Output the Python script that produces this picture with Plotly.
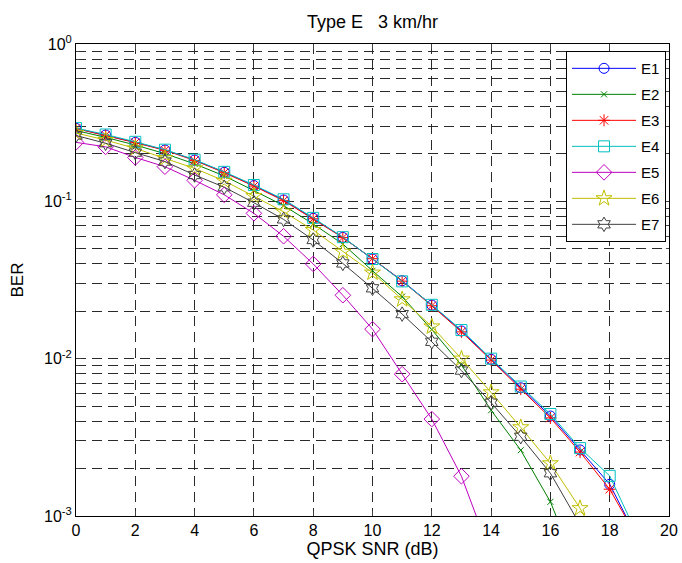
import plotly.graph_objects as go

# SNR points (dB) and BER curves for each channel estimator
snr = list(range(0, 20))

ber_e1 = [0.291, 0.264, 0.237, 0.212, 0.183, 0.153, 0.126, 0.102, 0.078, 0.059,
          0.043, 0.0313, 0.0219, 0.0150, 0.0099, 0.00653, 0.00432, 0.00263, 0.00159, 0.00068]
ber_e2 = [0.282, 0.255, 0.228, 0.201, 0.173, 0.145, 0.117, 0.094, 0.0718, 0.0535,
          0.0362, 0.0248, 0.0153, 0.0091, 0.0047, 0.00262, 0.00123, 0.00042]
ber_e3 = [0.290, 0.263, 0.236, 0.211, 0.182, 0.152, 0.125, 0.101, 0.0775, 0.0588,
          0.0432, 0.0311, 0.0217, 0.0148, 0.0098, 0.00640, 0.00420, 0.00255, 0.00148, 0.00069]
ber_e4 = [0.292, 0.266, 0.239, 0.213, 0.184, 0.154, 0.127, 0.103, 0.0785, 0.0592,
          0.0430, 0.0310, 0.0220, 0.0152, 0.0100, 0.00665, 0.00445, 0.00270, 0.00180, 0.00071]
ber_e5 = [0.237, 0.222, 0.190, 0.166, 0.136, 0.110, 0.0839, 0.0600, 0.0400, 0.0253,
          0.0154, 0.00797, 0.00413, 0.00179, 0.00056]
ber_e6 = [0.272, 0.245, 0.217, 0.188, 0.162, 0.135, 0.108, 0.0859, 0.0657, 0.0478,
          0.0352, 0.0238, 0.0160, 0.0100, 0.0061, 0.00366, 0.00216, 0.00112, 0.00050]
ber_e7 = [0.262, 0.234, 0.204, 0.179, 0.147, 0.123, 0.098, 0.0768, 0.0568, 0.0403,
          0.0280, 0.0192, 0.0128, 0.0084, 0.00525, 0.00319, 0.00187, 0.00088]

series = [
    ("E1", ber_e1, "#0000ff", "circle-open", 10),
    ("E2", ber_e2, "#008000", "x-thin-open", 6),
    ("E3", ber_e3, "#ff0000", "asterisk-open", 10),
    ("E4", ber_e4, "#00bfbf", "square-open", 11),
    ("E5", ber_e5, "#bf00bf", "diamond-open", 12),
    ("E6", ber_e6, "#bfbf00", "star-open", 12),
    ("E7", ber_e7, "#404040", "hexagram-open", 11),
]

x_ticks = list(range(0, 21, 2))
y_major = [1e-3, 1e-2, 1e-1, 1]
y_major_text = ["10<sup>-3</sup>", "10<sup>-2</sup>", "10<sup>-1</sup>", "10<sup>0</sup>"]
y_minor = [m * 10.0 ** e for e in (-3, -2, -1) for m in range(2, 10)]

FAMILY = "Arial, Liberation Sans, sans-serif"


def txt(size):
    return dict(family=FAMILY, size=size, color="black")


fig = go.Figure()
for name, ber, color, symbol, size in series:
    fig.add_trace(go.Scatter(
        x=snr[:len(ber)], y=ber, name=name, mode="lines+markers",
        legendgroup=name,
        line=dict(color=color, width=1),
        marker=dict(symbol=symbol, size=size, color=color,
                    line=dict(color=color, width=1)),
    ))

grid_color = "#2a2a2a"
grid_dash = "10px,6px"
fig.update_layout(
    width=682, height=563,
    margin=dict(l=76, r=13, t=44, b=47, autoexpand=False),
    paper_bgcolor="white", plot_bgcolor="white",
    font=txt(14),
    title=dict(text="Type E   3 km/hr", x=0.5, xref="paper", xanchor="center",
               y=0.962, yanchor="middle", font=txt(18)),
    legend=dict(x=0.995, y=0.985, xanchor="right", yanchor="top",
                bgcolor="white", bordercolor="black", borderwidth=1,
                font=txt(15), tracegroupgap=3.5, itemwidth=64),
    showlegend=True,
)
fig.update_xaxes(
    range=[0, 20], tickvals=x_ticks, ticks="inside", ticklen=5, automargin=False,
    showline=True, linecolor="black", linewidth=1, mirror="ticks",
    showgrid=True, gridcolor=grid_color, griddash=grid_dash, gridwidth=1,
    zeroline=False, title=dict(text="QPSK SNR (dB)", standoff=4, font=txt(18)),
    tickfont=txt(16),
)
fig.update_yaxes(
    type="log", range=[-3, 0], tickvals=y_major, ticktext=y_major_text,
    ticks="inside", ticklen=5, automargin=False,
    showline=True, linecolor="black", linewidth=1, mirror="ticks",
    showgrid=True, gridcolor=grid_color, griddash=grid_dash, gridwidth=1,
    minor=dict(tickmode="array", tickvals=y_minor, ticks="inside", ticklen=3,
               showgrid=True, gridcolor=grid_color, griddash=grid_dash),
    zeroline=False, title=dict(text="BER", standoff=16, font=txt(17)),
    tickfont=txt(16),
)

fig.write_html("out.html")
